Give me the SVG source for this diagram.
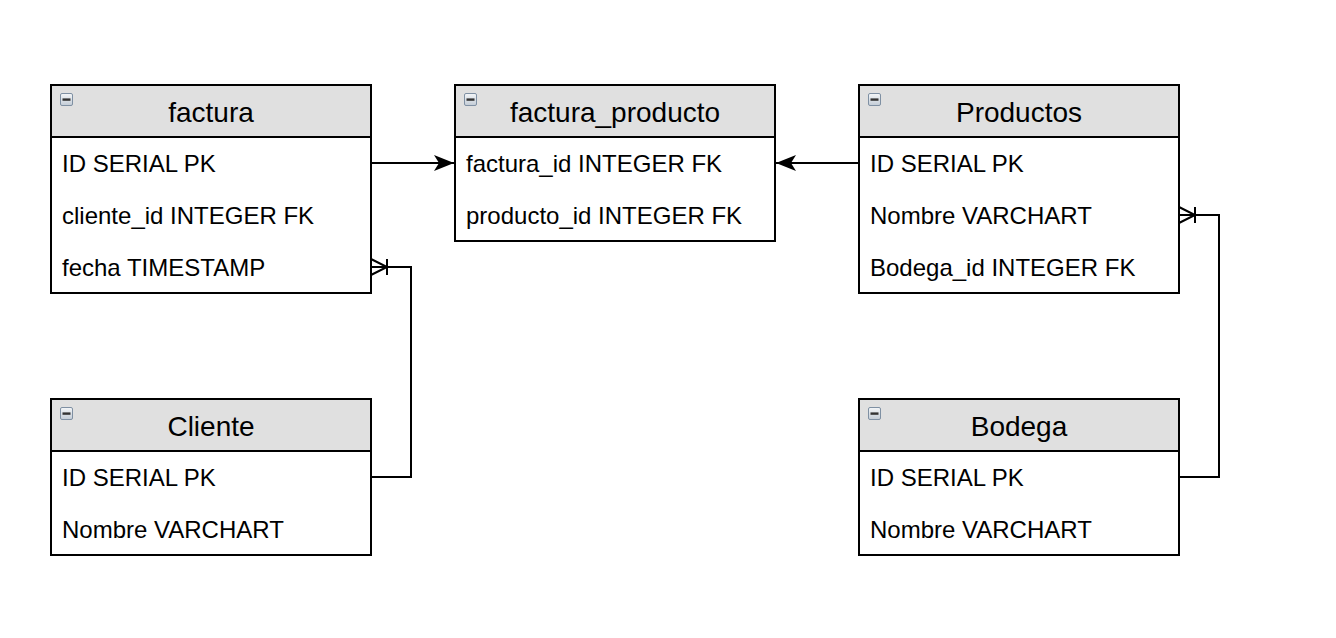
<svg xmlns="http://www.w3.org/2000/svg" width="1336" height="638" viewBox="0 0 1336 638">
<defs>
<linearGradient id="ig" x1="0" y1="0" x2="0" y2="1">
<stop offset="0" stop-color="#f4f6f8"/>
<stop offset="1" stop-color="#c3ccd6"/>
</linearGradient>
<g id="icon">
<rect x="0.5" y="0.5" width="12" height="12" rx="1.5" fill="url(#ig)" stroke="#7f90a3" stroke-width="1"/>
<rect x="2.5" y="5.4" width="8" height="2.4" fill="#333"/>
</g>
<marker id="arr" viewBox="0 0 20 16" refX="20" refY="8" markerWidth="20" markerHeight="16" markerUnits="userSpaceOnUse" orient="auto">
<path d="M0,0 L20,8 L0,16 L5,8 Z" fill="#000"/>
</marker>
</defs>
<style>
.hdr{fill:#e0e0e0;stroke:#000;stroke-width:2}
.body{fill:#fff;stroke:#000;stroke-width:2}
.t{font-family:"Liberation Sans",Arial,sans-serif;font-size:28px;fill:#000;text-anchor:middle}
.r{font-family:"Liberation Sans",Arial,sans-serif;font-size:24px;fill:#000}
.c{fill:none;stroke:#000;stroke-width:2}
</style>
<rect width="1336" height="638" fill="#fff"/>

<g id="factura">
<rect class="body" x="51" y="85" width="320" height="208"/>
<rect class="hdr" x="51" y="85" width="320" height="52"/>
<use href="#icon" x="60" y="93"/>
<text class="t" x="211" y="122">factura</text>
<text class="r" x="62" y="172">ID SERIAL PK</text>
<text class="r" x="62" y="224">cliente_id INTEGER FK</text>
<text class="r" x="62" y="276">fecha TIMESTAMP</text>
</g>

<g id="factura_producto">
<rect class="body" x="455" y="85" width="320" height="156"/>
<rect class="hdr" x="455" y="85" width="320" height="52"/>
<use href="#icon" x="464" y="93"/>
<text class="t" x="615" y="122">factura_producto</text>
<text class="r" x="466" y="172">factura_id INTEGER FK</text>
<text class="r" x="466" y="224">producto_id INTEGER FK</text>
</g>

<g id="Productos">
<rect class="body" x="859" y="85" width="320" height="208"/>
<rect class="hdr" x="859" y="85" width="320" height="52"/>
<use href="#icon" x="868" y="93"/>
<text class="t" x="1019" y="122">Productos</text>
<text class="r" x="870" y="172">ID SERIAL PK</text>
<text class="r" x="870" y="224">Nombre VARCHART</text>
<text class="r" x="870" y="276">Bodega_id INTEGER FK</text>
</g>

<g id="Cliente">
<rect class="body" x="51" y="399" width="320" height="156"/>
<rect class="hdr" x="51" y="399" width="320" height="52"/>
<use href="#icon" x="60" y="407"/>
<text class="t" x="211" y="436">Cliente</text>
<text class="r" x="62" y="486">ID SERIAL PK</text>
<text class="r" x="62" y="538">Nombre VARCHART</text>
</g>

<g id="Bodega">
<rect class="body" x="859" y="399" width="320" height="156"/>
<rect class="hdr" x="859" y="399" width="320" height="52"/>
<use href="#icon" x="868" y="407"/>
<text class="t" x="1019" y="436">Bodega</text>
<text class="r" x="870" y="486">ID SERIAL PK</text>
<text class="r" x="870" y="538">Nombre VARCHART</text>
</g>

<g id="connectors">
<path class="c" d="M371,163 L454,163" marker-end="url(#arr)"/>
<path class="c" d="M859,163 L776,163" marker-end="url(#arr)"/>
<path class="c" d="M371,477 L411,477 L411,267 L371,267"/>
<path class="c" d="M371,259 L387,267 L371,275 M387,259 L387,275"/>
<path class="c" d="M1179,477 L1219,477 L1219,215 L1179,215"/>
<path class="c" d="M1179,207 L1195,215 L1179,223 M1195,207 L1195,223"/>
</g>
</svg>
